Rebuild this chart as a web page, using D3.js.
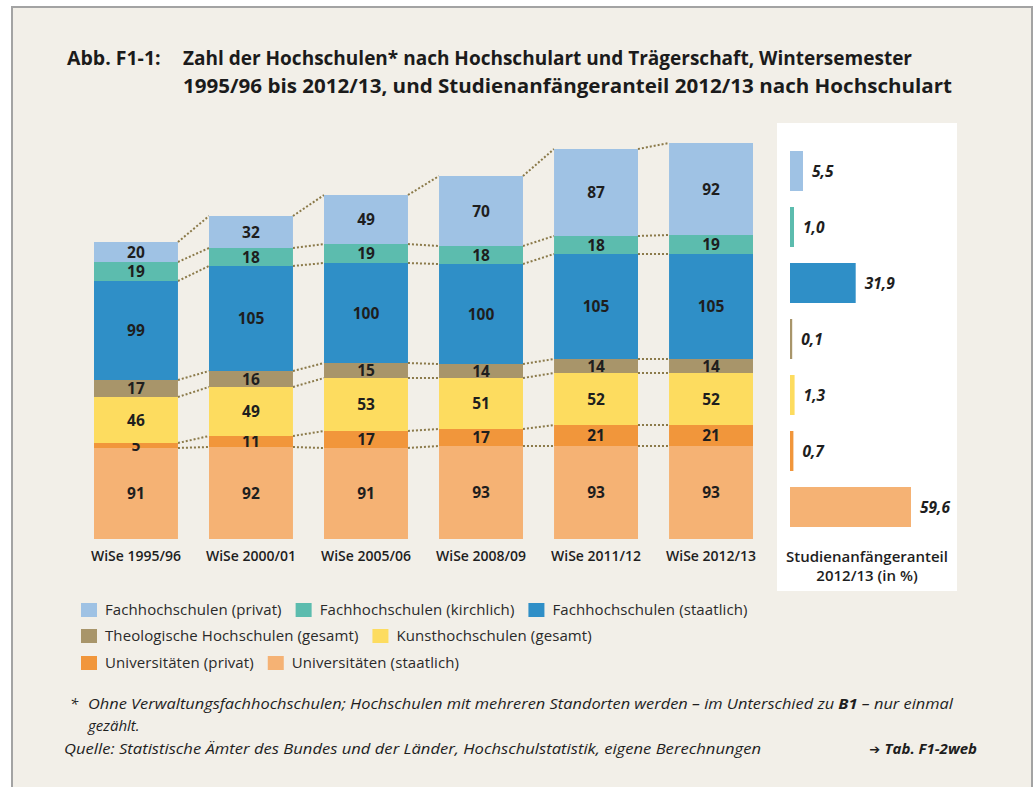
<!DOCTYPE html>
<html>
<head>
<meta charset="utf-8">
<script src="https://cdn.jsdelivr.net/npm/d3@7"></script>
<style>
  body { margin: 0; background: #fff; }
  svg text { font-family: "Open Sans", sans-serif; }
</style>
</head>
<body>
<div id="chart"></div>
<script>
// set the dimensions of the page
var width = 1036
var height = 787

// Data
var years = ["WiSe 1995/96", "WiSe 2000/01", "WiSe 2005/06", "WiSe 2008/09", "WiSe 2011/12", "WiSe 2012/13"]
var totals = [297, 323, 344, 363, 393, 399]

var uniStaatlich = [91, 92, 91, 93, 93, 93]
var uniPrivat = [5, 11, 17, 17, 21, 21]
var kunst = [46, 49, 53, 51, 52, 52]
var theologie = [17, 16, 15, 14, 14, 14]
var fhStaatlich = [99, 105, 100, 100, 105, 105]
var fhKirchlich = [19, 18, 19, 18, 18, 19]
var fhPrivat = [20, 32, 49, 70, 87, 92]

// series, bottom to top of the stack
var keys = ["uniStaatlich", "uniPrivat", "kunst", "theologie", "fhStaatlich", "fhKirchlich", "fhPrivat"]
var names = {
  fhPrivat: "Fachhochschulen (privat)",
  fhKirchlich: "Fachhochschulen (kirchlich)",
  fhStaatlich: "Fachhochschulen (staatlich)",
  theologie: "Theologische Hochschulen (gesamt)",
  kunst: "Kunsthochschulen (gesamt)",
  uniPrivat: "Universitäten (privat)",
  uniStaatlich: "Universitäten (staatlich)"
}
var colors = {
  fhPrivat: "#9fc2e4",
  fhKirchlich: "#5cbcae",
  fhStaatlich: "#2f8fc7",
  theologie: "#a8956a",
  kunst: "#fddc5f",
  uniPrivat: "#f1963b",
  uniStaatlich: "#f5b274"
}

// Studienanfängeranteil 2012/13 (in %), top to bottom
var shareKeys = ["fhPrivat", "fhKirchlich", "fhStaatlich", "theologie", "kunst", "uniPrivat", "uniStaatlich"]
var shares = [5.5, 1.0, 31.9, 0.1, 1.3, 0.7, 59.6]

var legendRows = [
  ["fhPrivat", "fhKirchlich", "fhStaatlich"],
  ["theologie", "kunst"],
  ["uniPrivat", "uniStaatlich"]
]

var titleLines = [
  "Zahl der Hochschulen* nach Hochschulart und Trägerschaft, Wintersemester",
  "1995/96 bis 2012/13, und Studienanfängeranteil 2012/13 nach Hochschulart"
]

// build table rows for d3.stack
var table = years.map(function(y, i) {
  return {
    year: y, total: totals[i],
    uniStaatlich: uniStaatlich[i], uniPrivat: uniPrivat[i], kunst: kunst[i],
    theologie: theologie[i], fhStaatlich: fhStaatlich[i], fhKirchlich: fhKirchlich[i], fhPrivat: fhPrivat[i]
  }
})

var de = d3.formatLocale({decimal: ",", thousands: ".", grouping: [3], currency: ["", " €"]})
var fmt1 = de.format(".1f")

var svg = d3.select("#chart")
  .append("svg")
    .attr("width", width)
    .attr("height", height)

// background frame
svg.append("rect")
  .attr("x", 12).attr("y", 7)
  .attr("width", 1020).attr("height", 800)
  .attr("fill", "#f2efe8")
  .attr("stroke", "#a3a3a3")
  .attr("stroke-width", 2)

// title
var title = svg.append("g")
  .attr("font-weight", 700)
  .attr("font-size", 19.5)
  .attr("fill", "#1b1b1b")
title.append("text").attr("x", 67).attr("y", 65).text("Abb. F1-1:")
title.append("text").attr("x", 183).attr("y", 65)
  .attr("textLength", 729).attr("lengthAdjust", "spacingAndGlyphs")
  .text(titleLines[0])
title.append("text").attr("x", 183).attr("y", 93)
  .attr("textLength", 769).attr("lengthAdjust", "spacingAndGlyphs")
  .text(titleLines[1])

// scales
var x = d3.scaleBand()
  .domain(years)
  .range([94, 753])
  .paddingInner(0.27)

var y = d3.scaleLinear()
  .domain([0, 400])
  .range([539, 139])

var stacked = d3.stack().keys(keys)(table)

// dotted connectors between bars
var conn = svg.append("g")
  .attr("stroke", "#8b7a4a")
  .attr("stroke-width", 2)
  .attr("stroke-dasharray", "2,2")
stacked.forEach(function(layer) {
  for (var i = 0; i < layer.length - 1; i++) {
    conn.append("line")
      .attr("x1", x(years[i]) + x.bandwidth())
      .attr("y1", y(layer[i][1]))
      .attr("x2", x(years[i + 1]))
      .attr("y2", y(layer[i + 1][1]))
  }
})

// stacked bars
var layers = svg.append("g")
  .selectAll("g")
  .data(stacked)
  .enter()
  .append("g")
    .attr("fill", function(d) { return colors[d.key] })

layers.selectAll("rect")
  .data(function(d) { return d })
  .enter()
  .append("rect")
    .attr("x", function(d) { return x(d.data.year) })
    .attr("y", function(d) { return y(d[1]) })
    .attr("width", x.bandwidth())
    .attr("height", function(d) { return y(d[0]) - y(d[1]) })

// segment labels
layers.selectAll("text")
  .data(function(d) { return d })
  .enter()
  .append("text")
    .attr("x", function(d) { return x(d.data.year) + x.bandwidth() / 2 })
    .attr("y", function(d) { return (y(d[0]) + y(d[1])) / 2 })
    .attr("dy", "0.36em")
    .attr("text-anchor", "middle")
    .attr("font-size", 15.5)
    .attr("font-weight", 700)
    .attr("fill", "#1e1e1e")
    .text(function(d) { return d[1] - d[0] })

// totals above the bars
var top = stacked[stacked.length - 1]
svg.append("g")
  .selectAll("text")
  .data(top)
  .enter()
  .append("text")
    .attr("x", function(d) { return x(d.data.year) + x.bandwidth() / 2 })
    .attr("y", function(d) { return y(d[1]) - 10 })
    .attr("text-anchor", "middle")
    .attr("font-size", 17)
    .attr("font-weight", 700)
    .attr("fill", "#d42a4c")
    .text(function(d) { return d.data.total })

// x axis labels
var xAxis = svg.append("g")
  .attr("transform", "translate(0," + y(0) + ")")
  .call(d3.axisBottom(x).tickSize(0).tickPadding(12))
xAxis.select(".domain").remove()
xAxis.selectAll("text")
  .attr("font-size", 14)
  .attr("font-weight", 600)
  .attr("fill", "#1e1e1e")
  .style("font-family", "'Open Sans', sans-serif")

// right panel: share of first-year students
svg.append("rect")
  .attr("x", 777).attr("y", 123)
  .attr("width", 180).attr("height", 468)
  .attr("fill", "#ffffff")

var sx = d3.scaleLinear()
  .domain([0, d3.max(shares)])
  .range([2, 121])
var sy = d3.scaleBand()
  .domain(shareKeys)
  .range([151, 527])
  .paddingInner(0.2857)

var shareG = svg.append("g")
shareG.selectAll("rect")
  .data(shareKeys)
  .enter()
  .append("rect")
    .attr("x", 790)
    .attr("y", function(k) { return sy(k) })
    .attr("width", function(k, i) { return sx(shares[i]) })
    .attr("height", sy.bandwidth())
    .attr("fill", function(k) { return colors[k] })
shareG.selectAll("text")
  .data(shareKeys)
  .enter()
  .append("text")
    .attr("x", function(k, i) { return 790 + sx(shares[i]) + 9 })
    .attr("y", function(k) { return sy(k) + sy.bandwidth() / 2 })
    .attr("dy", "0.36em")
    .attr("font-size", 15.5)
    .attr("font-weight", 700)
    .attr("font-style", "italic")
    .attr("fill", "#1e1e1e")
    .text(function(k, i) { return fmt1(shares[i]) })

var cap = svg.append("g")
  .attr("text-anchor", "middle")
  .attr("font-size", 15)
  .attr("font-weight", 600)
  .attr("fill", "#1e1e1e")
cap.append("text").attr("x", 867).attr("y", 562).text("Studienanfängeranteil")
cap.append("text").attr("x", 867).attr("y", 581).text("2012/13 (in %)")

// legend
var rowY = [610, 636, 663]
legendRows.forEach(function(row, r) {
  var cx = 81
  row.forEach(function(k) {
    svg.append("rect")
      .attr("x", cx).attr("y", rowY[r] - 7)
      .attr("width", 16).attr("height", 14)
      .attr("fill", colors[k])
    var t = svg.append("text")
      .attr("x", cx + 24).attr("y", rowY[r])
      .attr("dy", "0.36em")
      .attr("font-size", 15)
      .attr("letter-spacing", 0.1)
      .attr("fill", "#2a2a2a")
      .text(names[k])
    cx = cx + 24 + t.node().getComputedTextLength() + 14
  })
})

// footnote and source
var foot = svg.append("g")
  .attr("font-size", 15)
  .attr("font-style", "italic")
  .attr("fill", "#1e1e1e")
foot.append("text").attr("x", 70).attr("y", 709).text("*")
var f1 = foot.append("text").attr("x", 88).attr("y", 709)
  .attr("textLength", 865).attr("lengthAdjust", "spacingAndGlyphs")
f1.append("tspan").text("Ohne Verwaltungsfachhochschulen; Hochschulen mit mehreren Standorten werden – im Unterschied zu ")
f1.append("tspan").attr("font-weight", 700).text("B1")
f1.append("tspan").text(" – nur einmal")
foot.append("text").attr("x", 88).attr("y", 731).text("gezählt.")
foot.append("text").attr("x", 64).attr("y", 754)
  .attr("textLength", 697).attr("lengthAdjust", "spacingAndGlyphs")
  .text("Quelle: Statistische Ämter des Bundes und der Länder, Hochschulstatistik, eigene Berechnungen")
var src = foot.append("text").attr("x", 977).attr("y", 754)
  .attr("text-anchor", "end")
  .attr("font-weight", 700)
src.append("tspan").style("font-family", "'DejaVu Sans', sans-serif").attr("font-style", "normal").attr("font-size", 13).text("➔ ")
src.append("tspan").text("Tab. F1-2web")
</script>
</body>
</html>
